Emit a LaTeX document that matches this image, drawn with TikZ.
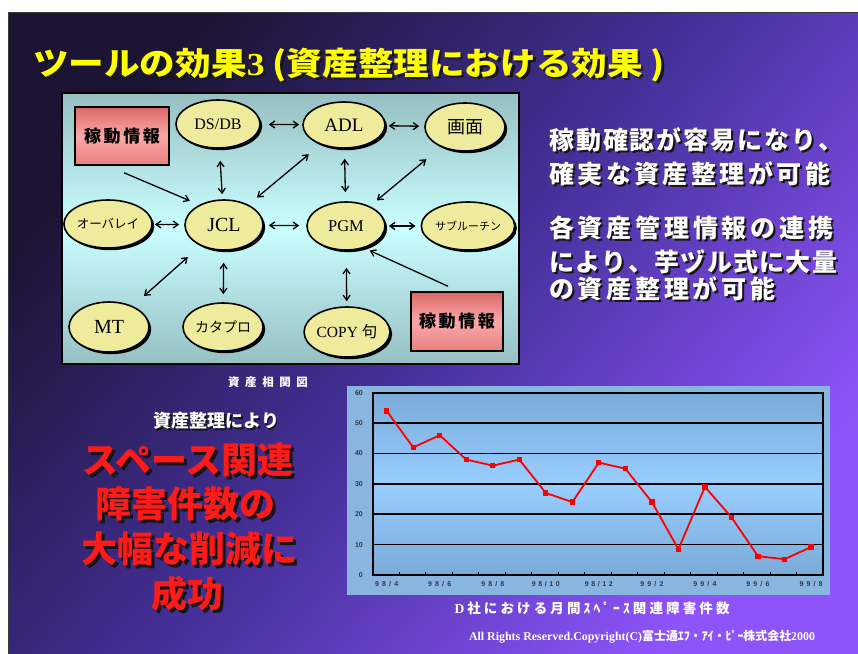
\documentclass[tikz,border=0pt]{standalone}
\usepackage{graphicx}
\usepackage{fontspec}
\setmainfont{Liberation Serif}
\newfontfamily\jp{Noto Sans CJK JP}
\newfontfamily\lsans{Liberation Sans}
\usetikzlibrary{shapes.geometric,arrows.meta,shadows}
\definecolor{bgA}{HTML}{1B1433}
\definecolor{bgB}{HTML}{45309A}
\definecolor{bgC}{HTML}{8E54FB}
\definecolor{frame}{HTML}{3A3A3A}
\definecolor{panTop}{HTML}{96BFC2}
\definecolor{panMid}{HTML}{CAFFFF}
\definecolor{ellfill}{HTML}{EFEB9C}
\definecolor{pinkA}{HTML}{DC6868}
\definecolor{pinkB}{HTML}{FAA8A8}
\definecolor{pinkC}{HTML}{E88080}
\definecolor{ttlyel}{HTML}{FFFF00}
\definecolor{redtxt}{HTML}{FF1A1A}
\definecolor{shd}{HTML}{151515}
\definecolor{chbg}{HTML}{88B6DE}
\definecolor{plTop}{HTML}{7AAAD8}
\definecolor{plMid}{HTML}{98CEFF}
\definecolor{lbl}{HTML}{303848}
\makeatletter
\def\spr@loop#1#2\spr@end{#1\ifx\relax#2\relax\else\hfill\spr@loop#2\spr@end\fi}
\newcommand\spreadtext[2]{\makebox[#1][s]{\spr@loop#2\spr@end}}
\makeatother
\begin{document}
\begin{tikzpicture}[x=1pt,y=-1pt,
  ell/.style={ellipse, draw=black, line width=1.6pt, fill=ellfill, inner sep=0pt,
    drop shadow={shadow xshift=2.2pt, shadow yshift=-2.2pt, fill=black, opacity=1}},
  kbox/.style={rectangle, draw=black, line width=1.5pt, top color=pinkA, bottom color=pinkC, middle color=pinkB, inner sep=0pt,
    font=\jp\bfseries\fontsize{17}{17}\selectfont},
  arr/.style={line width=1.3pt, {Straight Barb[length=5pt,width=7pt]}-{Straight Barb[length=5pt,width=7pt]}},
  arrone/.style={line width=1.3pt, -{Straight Barb[length=5pt,width=7pt]}},
  wtxt/.style={inner sep=0pt, text=white, font=\jp\bfseries\fontsize{25}{25}\selectfont, anchor=west},
  wshd/.style={wtxt, text=shd},
  rtxt/.style={inner sep=0pt, text=redtxt, font=\jp\bfseries\fontsize{36}{36}\selectfont},
  rshd/.style={rtxt, text=shd},
  ylab/.style={inner sep=0pt, anchor=east, text=lbl, font=\lsans\bfseries\fontsize{7}{7}\selectfont},
  xlab/.style={inner sep=0pt, text=lbl, font=\lsans\bfseries\fontsize{7}{7}\selectfont}
]
\useasboundingbox (0,0) rectangle (858,653);
\fill[white] (0,0) rectangle (858,653);
\shade[top color=bgA, bottom color=bgC, middle color=bgB, shading angle=50] (8,12) rectangle (858,653);
\draw[frame, line width=1.5pt] (8.7,660) -- (8.7,12.7) -- (865,12.7);

% title
\node[inner sep=0pt, anchor=west, text=shd, font=\jp\bfseries] (ttls) at (35.5,67.5)
  {\resizebox*{632pt}{34pt}{ツールの効果{\rmfamily\bfseries 3} (資産整理における効果 )}};
\node[inner sep=0pt, anchor=west, text=ttlyel, font=\jp\bfseries] (ttl) at (33,65)
  {\resizebox*{632pt}{34pt}{ツールの効果{\rmfamily\bfseries 3} (資産整理における効果 )}};

% diagram panel
\shade[top color=panTop, bottom color=panTop, middle color=panMid] (62,93) rectangle (519,364);
\draw[black, line width=1.8pt] (62,93) rectangle (519,364);

\node[kbox, minimum width=94pt, minimum height=58pt] (kd1) at (122,136) {\spreadtext{76pt}{稼動情報}};
\node[kbox, minimum width=92pt, minimum height=59pt] (kd2) at (457,321.5) {\spreadtext{76pt}{稼動情報}};

\node[ell, minimum width=84pt, minimum height=48pt, font=\fontsize{16}{16}\selectfont] (dsdb) at (218,124) {DS/DB};
\node[ell, minimum width=82pt, minimum height=46pt, font=\fontsize{19}{19}\selectfont] (adl) at (344,125) {ADL};
\node[ell, minimum width=80pt, minimum height=48pt, font=\jp\fontsize{18}{18}\selectfont] (gamen) at (465,127) {画面};
\node[ell, minimum width=78pt, minimum height=48pt, font=\jp\fontsize{12.5}{12.5}\selectfont] (ovl) at (108,224) {オーバレイ};
\node[ell, minimum width=78pt, minimum height=50pt, font=\fontsize{20}{20}\selectfont] (jcl) at (224,225) {JCL};
\node[ell, minimum width=78pt, minimum height=48pt, font=\fontsize{16.5}{16.5}\selectfont] (pgm) at (346,226) {PGM};
\node[ell, minimum width=86pt, minimum height=48pt, font=\jp\fontsize{11}{11}\selectfont] (sub) at (468,226) {サブルーチン};
\node[ell, minimum width=80pt, minimum height=50pt, font=\fontsize{20}{20}\selectfont] (mt) at (109,327) {MT};
\node[ell, minimum width=80pt, minimum height=48pt, font=\jp\fontsize{14}{14}\selectfont] (kata) at (223,327) {カタプロ};
\node[ell, minimum width=80pt, minimum height=50pt, font=\fontsize{15.5}{15.5}\selectfont] (copy) at (347,332) {COPY {\jp 句}};

\draw[arr, shorten <=8pt, shorten >=3pt] (dsdb) -- (adl);
\draw[arr, shorten <=3pt, shorten >=5pt] (adl) -- (gamen);
\draw[arr, shorten <=12pt, shorten >=5pt] (dsdb) -- (jcl);
\draw[arr, shorten <=10pt, shorten >=9pt] (adl) -- (pgm);
\draw[arr, shorten <=11pt, shorten >=15pt] (jcl) -- (adl);
\draw[arr, shorten <=9pt, shorten >=19pt] (pgm) -- (gamen);
\draw[arr, shorten <=2pt, shorten >=5pt] (ovl) -- (jcl);
\draw[arr, shorten <=5pt, shorten >=7pt] (jcl) -- (pgm);
\draw[arr, shorten <=3pt, shorten >=5pt] (pgm) -- (sub);
\draw[arr, shorten <=17pt, shorten >=15pt] (jcl) -- (mt);
\draw[arr, shorten <=12pt, shorten >=8pt] (jcl) -- (kata);
\draw[arr, shorten <=17pt, shorten >=5pt] (pgm) -- (copy);
\draw[arrone] ([shift={(2,7)}]kd1.south) -- ([shift={(-6,-6)}]jcl.north west);
\draw[arrone] ([shift={(-9,-5)}]kd2.north) -- ([shift={(-4.5,7)}]pgm.south east);

\node[inner sep=0pt, text=white, font=\jp\bfseries\fontsize{11.5}{11.5}\selectfont] (cap1) at (268,382) {\spreadtext{80pt}{資産相関図}};

% right text
\node[wshd] (r1s) at (551,141.5) {\spreadtext{294pt}{稼動確認が容易になり、}};
\node[wtxt] (r1) at (549,139.5) {\spreadtext{294pt}{稼動確認が容易になり、}};
\node[wshd] (r2s) at (551,176) {\spreadtext{281pt}{確実な資産整理が可能}};
\node[wtxt] (r2) at (549,174) {\spreadtext{281pt}{確実な資産整理が可能}};
\node[wshd] (r3s) at (551,230) {\spreadtext{284pt}{各資産管理情報の連携}};
\node[wtxt] (r3) at (549,228) {\spreadtext{284pt}{各資産管理情報の連携}};
\node[wshd] (r4s) at (551,264) {\spreadtext{288pt}{により、芋ヅル式に大量}};
\node[wtxt] (r4) at (549,262) {\spreadtext{288pt}{により、芋ヅル式に大量}};
\node[wshd] (r5s) at (551,291) {\spreadtext{226pt}{の資産整理が可能}};
\node[wtxt] (r5) at (549,289) {\spreadtext{226pt}{の資産整理が可能}};

% left bottom text
\node[inner sep=0pt, text=shd, font=\jp\bfseries\fontsize{18}{18}\selectfont] (l0s) at (218,423) {資産整理により};
\node[inner sep=0pt, text=white, font=\jp\bfseries\fontsize{18}{18}\selectfont] (l0) at (216.5,421) {資産整理により};
\node[rshd] (l1s) at (191,463) {スペース関連};
\node[rtxt] (l1) at (188,460) {スペース関連};
\node[rshd] (l2s) at (188,507) {障害件数の};
\node[rtxt] (l2) at (185,504) {障害件数の};
\node[rshd] (l3s) at (192,552) {大幅な削減に};
\node[rtxt] (l3) at (189,549) {大幅な削減に};
\node[rshd] (l4s) at (190,597) {成功};
\node[rtxt] (l4) at (187,594) {成功};

% chart
\fill[chbg] (347,386) rectangle (830,595);
\shade[top color=plTop, bottom color=plTop, middle color=plMid] (373,392.7) rectangle (823,575);
\foreach \k in {1,...,5} \draw[black, line width=1.6pt] (373,{575-30.38*\k}) -- (823,{575-30.38*\k});
\draw[black, line width=1.6pt] (373,392.7) rectangle (823,575);
\foreach \k in {1,...,16} \draw[black, line width=1pt] ({373+26.47*\k},575) -- ++(0,-3.5);
\foreach \v in {0,10,...,60} \node[ylab] (yl\v) at (363,{575-3.038*\v}) {\v};
\node[xlab] (x1) at (386.7,584) {\spreadtext{23pt}{98/4}};
\node[xlab] (x3) at (439.7,584) {\spreadtext{23pt}{98/6}};
\node[xlab] (x5) at (492.8,584) {\spreadtext{23pt}{98/8}};
\node[xlab] (x7) at (545.8,584) {\spreadtext{28pt}{98/10}};
\node[xlab] (x9) at (598.8,584) {\spreadtext{28pt}{98/12}};
\node[xlab] (x11) at (651.9,584) {\spreadtext{23pt}{99/2}};
\node[xlab] (x13) at (704.9,584) {\spreadtext{23pt}{99/4}};
\node[xlab] (x15) at (757.9,584) {\spreadtext{23pt}{99/6}};
\node[xlab] (x17) at (811,584) {\spreadtext{23pt}{99/8}};
\begin{scope}[shift={(386.7,575)}, x=26.52pt, y=3.038pt]
\draw[red, line width=1.8pt, line join=round]
  (0,54) -- (1,42) -- (2,46) -- (3,38) -- (4,36) -- (5,38) -- (6,27) -- (7,24) -- (8,37) -- (9,35) -- (10,24) -- (11,8.5) -- (12,29) -- (13,19) -- (14,6.2) -- (15,5.2) -- (16,9.2);
\foreach \i/\v in {0/54,1/42,2/46,3/38,4/36,5/38,6/27,7/24,8/37,9/35,10/24,11/8.5,12/29,13/19,14/6.2,15/5.2,16/9.2}
  \fill[red] ([shift={(-2.6pt,-2.6pt)}]\i,\v) rectangle ([shift={(2.6pt,2.6pt)}]\i,\v);
\end{scope}
\node[inner sep=0pt, text=white, font=\jp\bfseries\fontsize{13.5}{13.5}\selectfont] (cap2) at (592,608)
  {\spreadtext{275pt}{{{\rmfamily\bfseries D}}社における月間ｽﾍﾟｰｽ関連障害件数}};

% copyright
\node[inner sep=0pt, text=white] (cpr) at (642,637)
  {\resizebox{346pt}{!}{\bfseries All Rights Reserved.Copyright(C){\jp 富士通ｴﾌ・ｱｲ・ﾋﾟｰ株式会社}2000}};
\end{tikzpicture}
\end{document}
